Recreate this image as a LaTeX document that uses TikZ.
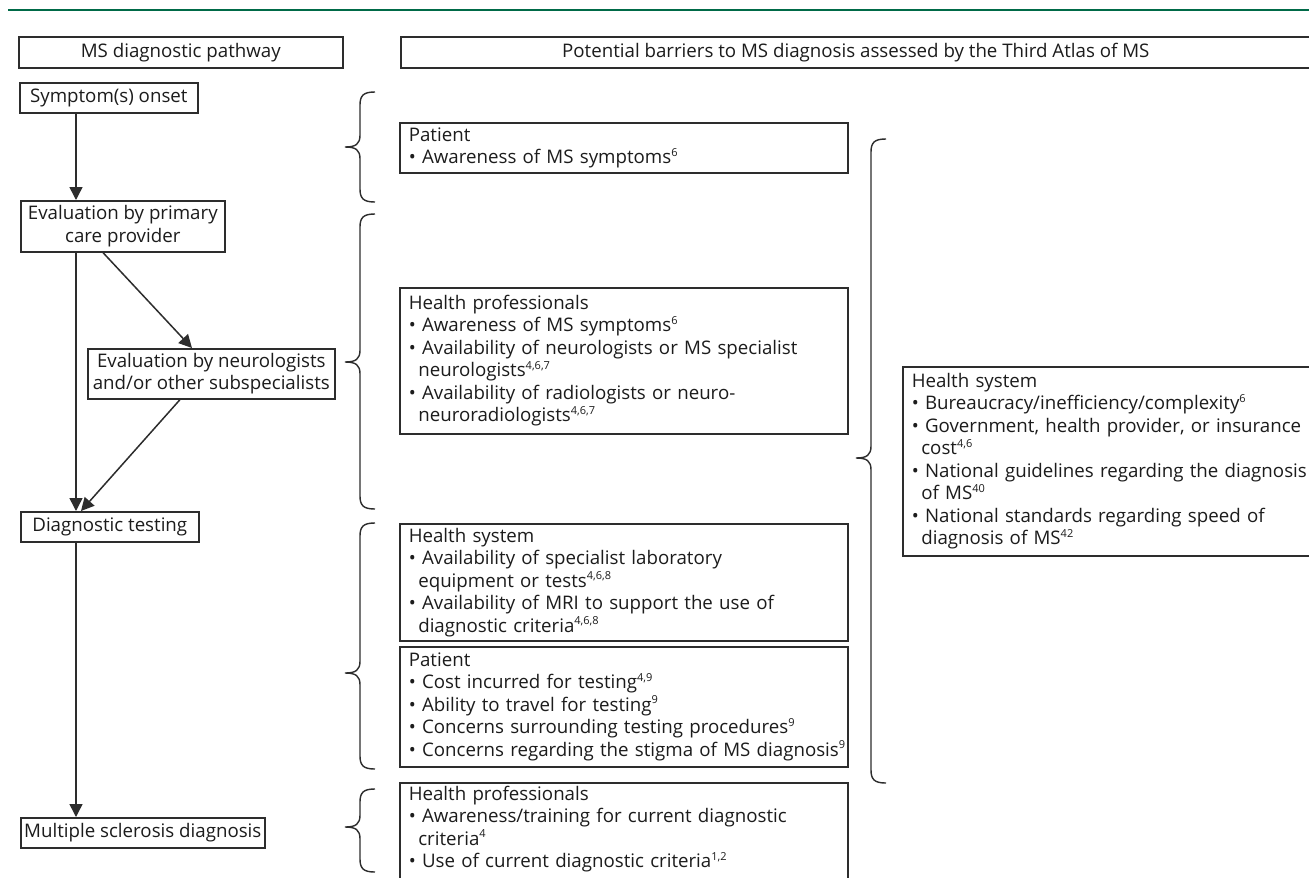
\documentclass[tikz,border=0pt]{standalone}
\usepackage{fontspec}
\setmainfont{Open Sans}
\usetikzlibrary{arrows.meta}
\definecolor{ink}{RGB}{28,28,28}
\definecolor{linec}{RGB}{45,45,45}
\definecolor{topgreen}{RGB}{0,106,72}
\newcommand{\sps}[1]{\raisebox{0.40em}{\fontsize{11}{11}\selectfont #1}}
\newcommand{\cont}{\hspace*{9.5pt}}
\newcommand{\mybrace}[4]{%
  \draw[brc] (#1+30,#2) .. controls (#1+19,#2) and (#1+15,#2+3) .. (#1+15,#2+13)
    -- (#1+15,#3-12) .. controls (#1+15,#3-3) and (#1+11,#3) .. (#1,#3)
    .. controls (#1+11,#3) and (#1+15,#3+3) .. (#1+15,#3+12)
    -- (#1+15,#4-13) .. controls (#1+15,#4-3) and (#1+19,#4) .. (#1+30,#4);}
\tikzset{
  x=1pt, y=-1pt,
  every node/.style={font=\fontsize{18.7}{22.5}\selectfont, text=ink},
  flowbox/.style={draw=linec, line width=1.6pt, inner sep=0pt, anchor=north west, align=center},
  listbox/.style={draw=linec, line width=1.6pt, inner xsep=9pt, inner ysep=3pt, anchor=north west, align=left},
  arr/.style={draw=linec, line width=1.5pt, -{Triangle[length=13pt,width=13pt]}},
  brc/.style={draw=linec, line width=1.4pt},
}
\hfuzz=50pt
\begin{document}
\begin{tikzpicture}
\useasboundingbox (0,0) rectangle (1309,878);
\fill[white] (0,0) rectangle (1309,878);
\draw[topgreen, line width=2.2pt] (8,10) -- (1309,10);

% headers
\node[flowbox, minimum width=324pt, minimum height=31pt] (hdrL) at (18,36) {MS diagnostic pathway};
\node[flowbox, minimum width=910pt, minimum height=31pt] (hdrR) at (400,36) {Potential barriers to MS diagnosis assessed by the Third Atlas of MS};

% pathway
\node[flowbox, minimum width=178pt, minimum height=30pt] (sym) at (19,82) {Symptom(s) onset};
\node[flowbox, minimum width=204pt, minimum height=51pt] (prim) at (20,200) {Evaluation by primary\\care provider};
\node[flowbox, minimum width=247pt, minimum height=50pt] (neuro) at (87,348) {Evaluation by neurologists\\and/or other subspecialists};
\node[flowbox, minimum width=178pt, minimum height=30pt] (diag) at (20,511) {Diagnostic testing};
\node[flowbox, minimum width=244pt, minimum height=30pt] (msd) at (20,817) {Multiple sclerosis diagnosis};

\coordinate (xl) at (76,0);
\coordinate (d1s) at (103,0);
\coordinate (d1e) at (192,0);
\coordinate (d2s) at (180,0);
\coordinate (d2e) at (81,0);

\draw[arr] (sym.south -| xl) -- (prim.north -| xl);
\draw[arr] (prim.south -| xl) -- (diag.north -| xl);
\draw[arr] (prim.south -| d1s) -- (neuro.north -| d1e);
\draw[arr] (neuro.south -| d2s) -- (diag.north -| d2e);
\draw[arr] (diag.south -| xl) -- (msd.north -| xl);

% barrier boxes
\node[listbox, text width=430pt, minimum height=50pt] (pat1) at (399,122) {Patient\\• Awareness of MS symptoms\sps{6}};
\node[listbox, text width=430pt, minimum height=146pt] (hp1) at (399,287) {Health professionals\\• Awareness of MS symptoms\sps{6}\\• Availability of neurologists or MS specialist\\\cont neurologists\sps{4,6,7}\\• Availability of radiologists or neuro-\\\cont neuroradiologists\sps{4,6,7}};
\node[listbox, text width=430pt, minimum height=117pt] (hs1) at (399,523) {Health system\\• Availability of specialist laboratory\\\cont equipment or tests\sps{4,6,8}\\• Availability of MRI to support the use of\\\cont diagnostic criteria\sps{4,6,8}};
\node[listbox, text width=430pt, minimum height=120pt] (pat2) at (399,646) {Patient\\• Cost incurred for testing\sps{4,9}\\• Ability to travel for testing\sps{9}\\• Concerns surrounding testing procedures\sps{9}\\\mbox{• Concerns regarding the stigma of MS diagnosis\sps{9}}};
\node[listbox, text width=430pt, text depth=100pt] (hp2) at (399,782) {Health professionals\\• Awareness/training for current diagnostic\\\cont criteria\sps{4}\\• Use of current diagnostic criteria\sps{1,2}};
\node[listbox, text width=395pt, minimum height=189pt] (hs2) at (902,366) {Health system\\• Bureaucracy/inefficiency/complexity\sps{6}\\• Government, health provider, or insurance\\\cont cost\sps{4,6}\\\mbox{• National guidelines regarding the diagnosis}\\\cont of MS\sps{40}\\• National standards regarding speed of\\\cont diagnosis of MS\sps{42}};

% braces
\mybrace{345}{92}{147}{202}
\mybrace{345}{214}{362}{509}
\mybrace{345}{523}{673}{769}
\mybrace{345}{789}{827}{872}
\mybrace{856}{139}{458}{783}
\end{tikzpicture}
\end{document}
